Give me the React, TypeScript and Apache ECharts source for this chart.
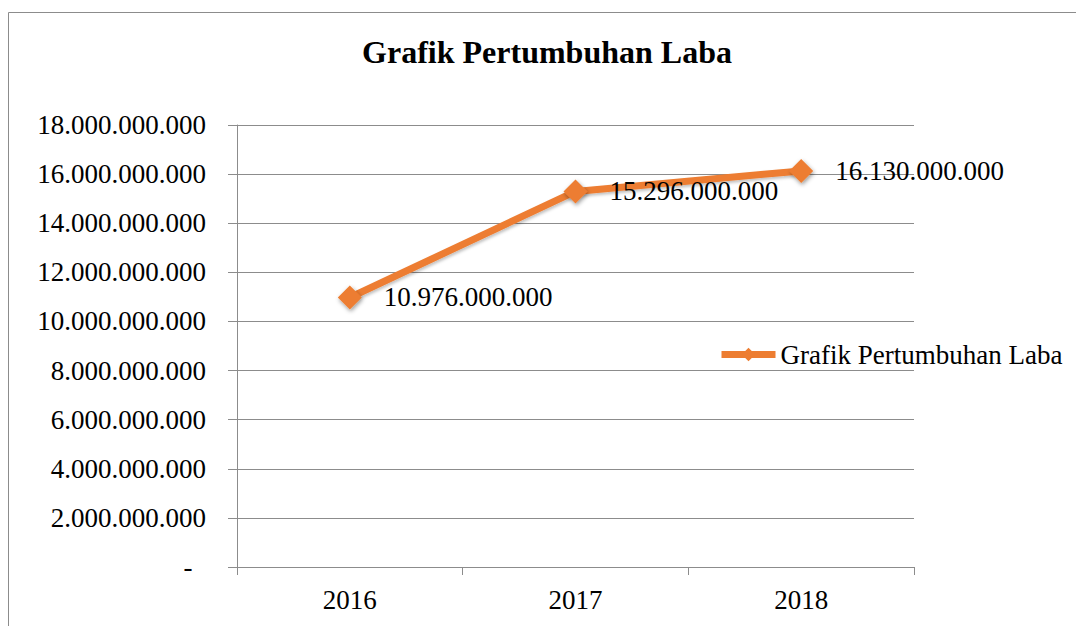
import React, { useEffect, useRef } from "react";
import * as echarts from "echarts";

const categories = ["2016", "2017", "2018"];
const seriesName = "Grafik Pertumbuhan Laba";
const values = [10976000000, 15296000000, 16130000000];
const yMax = 18000000000;
const yInterval = 2000000000;

function fmt(v: number): string {
  if (v === 0) return "-\u00a0\u00a0";
  const s = Math.round(v).toString();
  return s.replace(/\B(?=(\d{3})+(?!\d))/g, ".");
}

export default function App() {
  const ref = useRef<HTMLDivElement>(null);
  useEffect(() => {
    if (!ref.current) return;
    const chart = echarts.init(ref.current, undefined, { renderer: "svg" });
    const font = "'Liberation Serif', 'Times New Roman', serif";
    const fs = 27;
    chart.setOption({
      animation: false,
      backgroundColor: "#fff",
      textStyle: { fontFamily: font, color: "#000" },
      graphic: [
        {
          type: "rect",
          shape: { x: 8.5, y: 12.5, width: 1100, height: 640 },
          style: { fill: "none", stroke: "#8c8c8c", lineWidth: 1 },
          silent: true,
        },
      ],
      title: {
        text: seriesName,
        left: 547,
        textAlign: "center",
        top: 36,
        padding: 0,
        textStyle: { fontFamily: font, fontSize: 32, fontWeight: "bold", color: "#000" },
      },
      legend: {
        left: 718,
        top: 341,
        padding: 0,
        itemWidth: 54,
        itemHeight: 17,
        itemGap: 10,
        lineStyle: { width: 7 },
        textStyle: { fontFamily: font, fontSize: fs, color: "#000" },
        data: [{ name: seriesName }],
      },
      grid: { left: 237, right: 162, top: 125, bottom: 59, containLabel: false },
      xAxis: {
        type: "category",
        data: categories,
        boundaryGap: true,
        axisLine: { show: true, lineStyle: { color: "#8c8c8c", width: 1 } },
        axisTick: { show: true, length: 8, lineStyle: { color: "#8c8c8c" } },
        axisLabel: { fontFamily: font, fontSize: fs, color: "#000", margin: 19 },
        splitLine: { show: false },
      },
      yAxis: {
        type: "value",
        min: 0,
        max: yMax,
        interval: yInterval,
        axisLine: { show: true, lineStyle: { color: "#8c8c8c", width: 1 } },
        axisTick: { show: true, length: 9, lineStyle: { color: "#8c8c8c" } },
        axisLabel: { fontFamily: font, fontSize: fs, color: "#000", margin: 31, formatter: (v: number) => fmt(v) },
        splitLine: { show: true, lineStyle: { color: "#8c8c8c", width: 1 } },
      },
      series: [
        {
          name: seriesName,
          type: "line",
          data: values,
          symbol: "diamond",
          symbolSize: 24,
          lineStyle: { color: "#ED7D31", width: 7, shadowColor: "rgba(0,0,0,0.25)", shadowBlur: 3, shadowOffsetX: 1, shadowOffsetY: 2 },
          itemStyle: { color: "#ED7D31", shadowColor: "rgba(0,0,0,0.4)", shadowBlur: 4, shadowOffsetX: 1, shadowOffsetY: 2 },
          label: {
            show: true,
            position: "right",
            distance: 22,
            fontFamily: font,
            fontSize: fs,
            color: "#000",
            formatter: (p: any) => fmt(p.value),
          },
          z: 3,
        },
      ],
    });
    return () => chart.dispose();
  }, []);
  return (
    <div
      ref={ref}
      style={{ position: "fixed", left: 0, top: 0, width: 1076, height: 626 }}
    />
  );
}
